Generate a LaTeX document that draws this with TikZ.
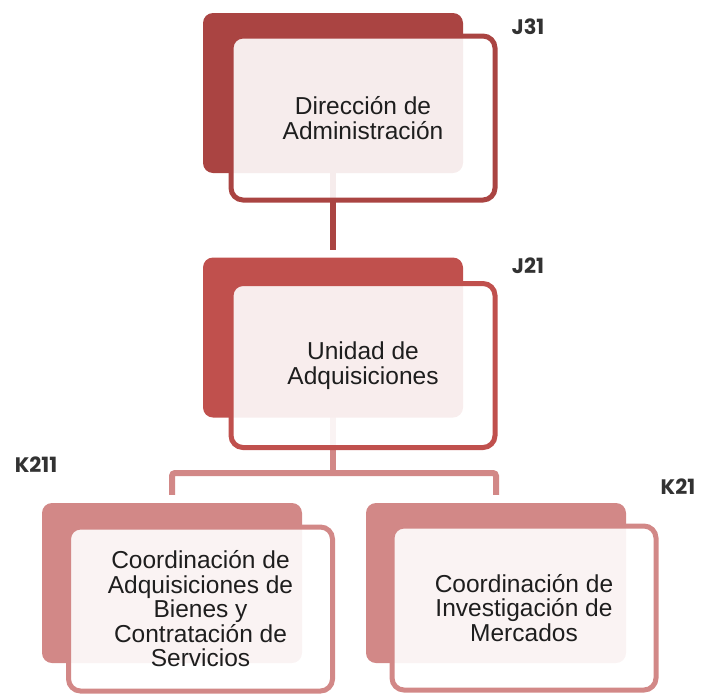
\documentclass[tikz,border=0pt]{standalone}
\usepackage{fontspec}
\setmainfont{Liberation Sans}
\newfontfamily\lblfont{Poppins}
\usetikzlibrary{backgrounds}
\definecolor{rA}{RGB}{170,68,66}
\definecolor{rB}{RGB}{192,80,77}
\definecolor{rC}{RGB}{210,136,135}
\definecolor{txt}{RGB}{30,30,30}
\definecolor{lbl}{RGB}{50,50,50}
\begin{document}
\begin{tikzpicture}[x=1pt,y=-1pt,
  backbox/.style={rectangle, rounded corners=10pt, fill=#1, minimum width=260pt, minimum height=160pt, inner sep=0pt},
  frontbox/.style={rectangle, rounded corners=12pt, draw=#1, line width=5pt, fill=white, fill opacity=0.9, text opacity=1, draw opacity=1, minimum width=264pt, minimum height=164pt, align=center, inner sep=0pt, font=\fontsize{24.5}{24.5}\selectfont, text=txt},
  code/.style={font=\lblfont\bfseries\fontsize{21}{21}\selectfont, text=lbl, inner sep=0pt},
  link/.style={line width=6pt, draw=#1}]
\useasboundingbox (0,0) rectangle (702,694);

% back rectangles
\path (333,93) node[backbox=rA] (b1) {};
\path (333,337.5) node[backbox=rB] (b2) {};
\path (172,583) node[backbox=rC] (b3) {};
\path (496,583) node[backbox=rC] (b4) {};

% front boxes with text
\path (363,118) node[frontbox=rA] (f1) {Dirección de\\Administración};
\path (363,365.5) node[frontbox=rB] (f2) {Unidad de\\Adquisiciones};
\path (200.5,609) node[frontbox=rC] (f3) {Coordinación de\\Adquisiciones de\\Bienes y\\Contratación de\\Servicios};
\path (524,608) node[frontbox=rC] (f4) {Coordinación de\\Investigación de\\Mercados};

% codes
\node[code] (c1) at (528,27) {J31};
\node[code] (c2) at (528,266) {J21};
\node[code] (c3) at (36,465) {K211};
\node[code] (c4) at (678,487) {K21};

% connectors (behind boxes)
\coordinate (hub) at (333,473);
\begin{scope}[on background layer]
\draw[link=rA] (b1.center) -- ([yshift=7pt]b2.north);
\draw[link=rC] (b2.center) -- (hub);
\draw[link=rC, rounded corners=3pt] ([yshift=8pt]b3.north) |- (hub) -| ([yshift=8pt]b4.north);
\end{scope}
\end{tikzpicture}
\end{document}
